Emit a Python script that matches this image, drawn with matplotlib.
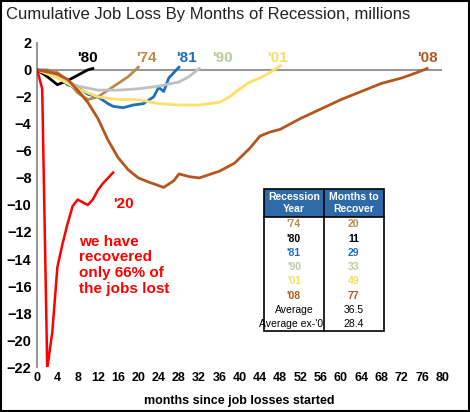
import matplotlib
matplotlib.use('Agg')
import matplotlib.pyplot as plt

# data (millions of jobs, cumulative vs. pre-recession peak)
m74 = [0, 2, 4, 6, 8, 10, 12, 14, 16, 18, 20]
v74 = [0, 0, -0.2, -0.8, -1.7, -2.2, -2.0, -1.5, -1.0, -0.5, 0.2]
m80 = [0, 2, 4, 6, 8, 10, 11]
v80 = [0, -0.5, -1.1, -0.8, -0.4, 0.0, 0.1]
m81 = [0, 2, 4, 6, 8, 10, 12, 14, 15, 17, 19, 21, 23, 24, 25, 26, 28]
v81 = [0, -0.1, -0.4, -1.1, -1.3, -1.8, -2.0, -2.5, -2.7, -2.8, -2.6, -2.5, -2.0, -1.3, -1.6, -0.6, 0.2]
m90 = [0, 4, 8, 12, 16, 20, 24, 28, 30, 32]
v90 = [0, -0.5, -1.2, -1.5, -1.5, -1.4, -1.2, -0.9, -0.5, 0.1]
m01 = [0, 4, 8, 12, 16, 20, 24, 28, 32, 36, 38, 40, 42, 44, 46, 48]
v01 = [0, -0.6, -1.4, -2.0, -2.2, -2.2, -2.5, -2.6, -2.6, -2.4, -2.0, -1.4, -0.9, -0.6, -0.2, 0.3]
m08 = [0, 4, 6, 8, 10, 12, 14, 16, 18, 20, 22, 25, 27, 28, 30, 32, 36, 39, 42, 44, 46, 48, 52, 56, 60, 64, 68, 72, 75, 77]
v08 = [0, -0.3, -0.7, -1.5, -2.4, -3.6, -5.2, -6.5, -7.4, -8.0, -8.3, -8.7, -8.2, -7.7, -7.9, -8.0, -7.5, -6.9, -5.8, -4.9, -4.6, -4.4, -3.6, -2.9, -2.2, -1.6, -1.0, -0.6, -0.2, 0.1]
m20 = list(range(16))
v20 = [0, -1.4, -22.1, -19.4, -14.6, -12.9, -11.4, -10.1, -9.6, -9.8, -10.0, -9.6, -8.9, -8.4, -8.0, -7.6]

series = [
    ("'74", m74, v74, '#B88A4C', '#B88A4C', 21.5),
    ("'80", m80, v80, 'black', 'black', 10),
    ("'81", m81, v81, '#1F6FBF', '#1F6FBF', 29.5),
    ("'90", m90, v90, '#C0C0C0', '#B9CC9C', 36.5),
    ("'01", m01, v01, '#FFE066', '#F2E066', 47.5),
    ("'08", m08, v08, '#B4561E', '#B4561E', 77),
]

rec_years = ["'74", "'80", "'81", "'90", "'01", "'08", "Average", "Average ex-'08"]
months_recover = ["20", "11", "29", "33", "49", "77", "36.5", "28.4"]

plt.rcParams['font.family'] = ['Liberation Sans', 'DejaVu Sans']
fig = plt.figure(figsize=(4.7, 4.12), dpi=100)
ax = fig.add_axes([0.079, 0.109, 0.862, 0.787])

ax.axhline(0, color='#999999', lw=1.5, zorder=1)
for name, m, v, c, lc, lx in series:
    ax.plot(m, v, color=c, lw=2, zorder=2)
    ax.text(lx, 0.9, name, color=lc, fontsize=11, fontweight='bold', ha='center', va='center')
ax.plot(m20, v20, color='red', lw=1.8, zorder=3)
ax.text(17, -9.9, "'20", color='red', fontsize=11, fontweight='bold', ha='center', va='center')
ax.text(8.3, -12.2, "we have\nrecovered\nonly 66% of\nthe jobs lost", color='red',
        fontsize=11, fontweight='bold', va='top', linespacing=1.15)

ax.set_xlim(0, 80)
ax.set_ylim(-22, 2)
ax.set_xticks(range(0, 81, 4))
ax.set_yticks(range(-22, 3, 2))
ax.tick_params(length=0, labelsize=9)
ax.tick_params(axis='y', labelsize=10.5, pad=4)
for lab in ax.get_xticklabels() + ax.get_yticklabels():
    lab.set_fontweight('bold')
for s in ['top', 'right', 'bottom']:
    ax.spines[s].set_visible(False)
ax.spines['left'].set_color('#999999')
ax.spines['left'].set_linewidth(1.5)
ax.set_xlabel('months since job losses started', fontsize=9, fontweight='bold', labelpad=8)

fig.text(0.012, 0.965, 'Cumulative Job Loss By Months of Recession, millions',
         fontsize=12, color='#222222', va='center')

# table
bx, by, bw, bh = 0.56, 0.11, 0.295, 0.44
cell_text = [[y, n] for y, n in zip(rec_years, months_recover)]
tbl = ax.table(cellText=cell_text, colLabels=['Recession\nYear', 'Months to\nRecover'],
               cellLoc='center', bbox=[bx, by, bw, bh])
tbl.auto_set_font_size(False)
colors = [s[4] for s in series] + ['black', 'black']
n = len(rec_years)
for (r, c), cell in tbl.get_celld().items():
    cell.set_linewidth(0)
    cell.set_fontsize(7.5)
    if r == 0:
        cell.set_facecolor('#2E6AA8')
        cell.get_text().set_color('white')
        cell.get_text().set_fontweight('bold')
        cell.set_height(2.0 / (n + 2))
    else:
        cell.set_height(1.0 / (n + 2))
        cell.get_text().set_color(colors[r - 1])
        cell.get_text().set_fontweight('bold' if r <= 6 else 'normal')
ax.add_patch(plt.Rectangle((bx, by), bw, bh, transform=ax.transAxes, fill=False,
                           ec='black', lw=1.2, zorder=10))
ax.plot([bx + bw / 2] * 2, [by, by + bh], transform=ax.transAxes, color='black', lw=1.2, zorder=10)
hy = by + bh - bh * 2 / (n + 2)
ax.plot([bx, bx + bw], [hy, hy], transform=ax.transAxes, color='black', lw=1.2, zorder=10)

# outer border
fig.add_artist(plt.Rectangle((0.002, 0.002), 0.996, 0.996, transform=fig.transFigure,
                             fill=False, ec='black', lw=1.5))

fig.savefig('out.png', dpi=100, facecolor='white')
